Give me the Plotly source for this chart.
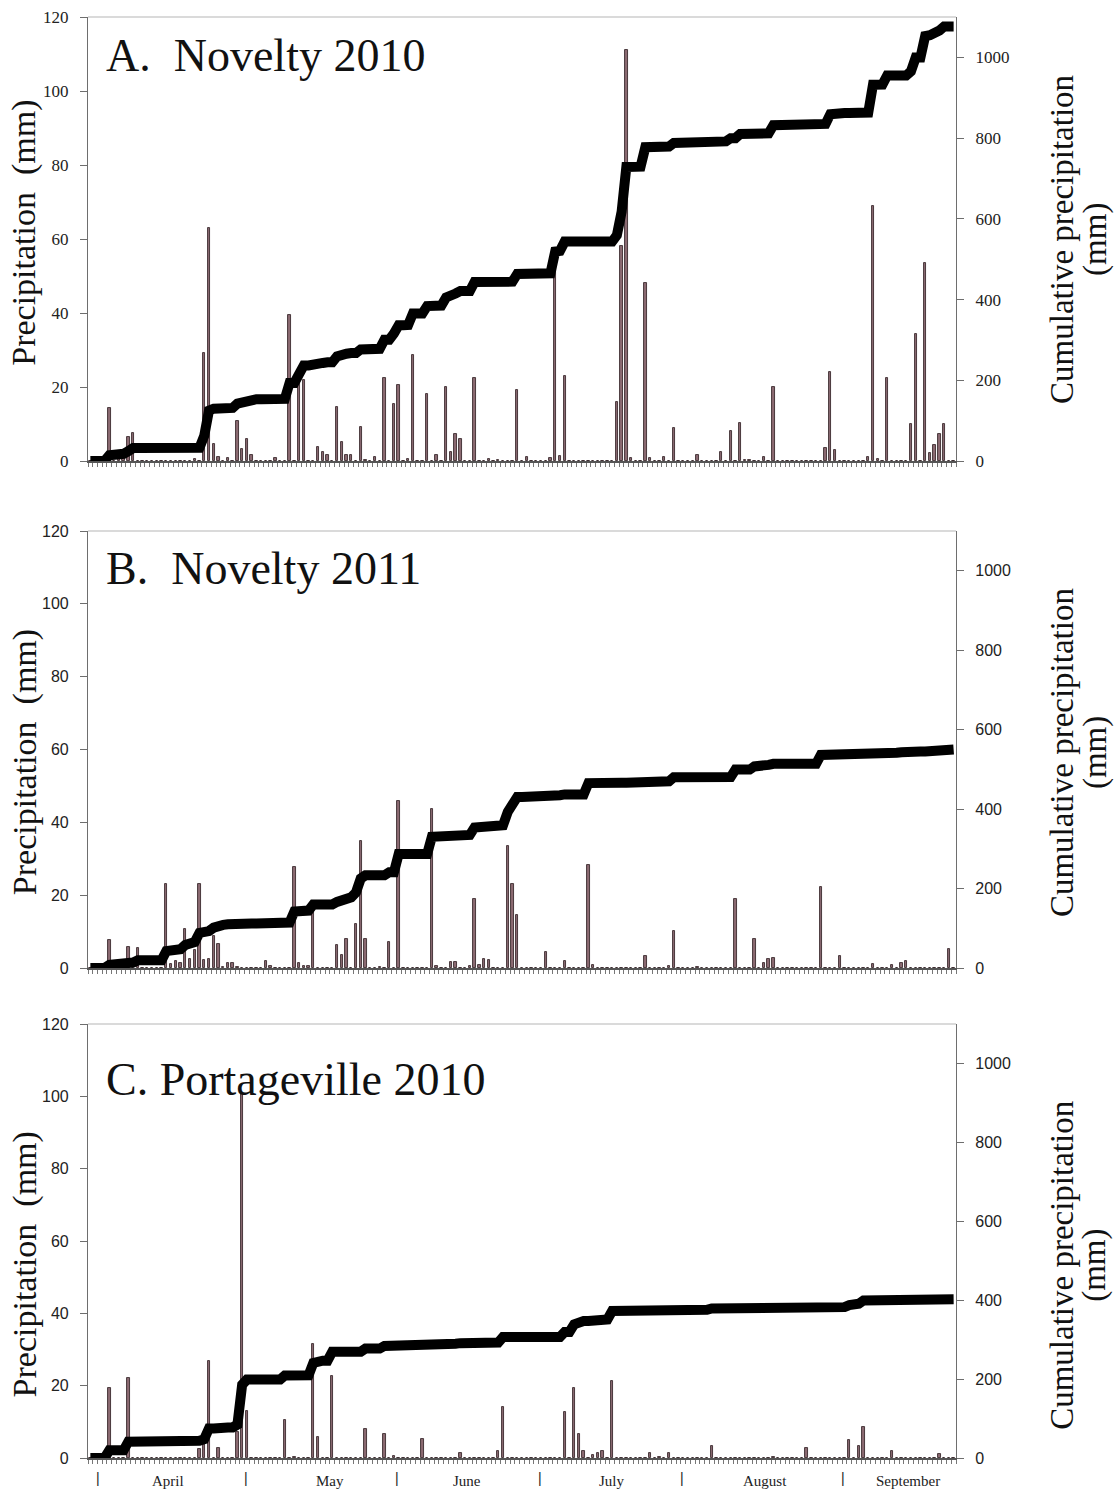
import numpy as np
import plotly.graph_objects as go

# ---------------- data ----------------
N_DAYS = 183  # 1 April .. 30 September (day index 0..182)
DAYS = list(range(N_DAYS))

# A. Novelty 2010 : rain days (index from 1 April) and amounts (mm)
A_DAY = [4, 6, 7, 8, 9, 22, 24, 25, 26, 27, 29, 31, 32, 33, 34, 39, 42, 44, 45, 48,
         49, 50, 52, 53, 54, 55, 57, 58, 60, 62, 64, 65, 67, 68, 71, 73, 75, 76, 77, 78,
         81, 84, 86, 90, 92, 97, 98, 99, 100, 111, 112, 113, 114, 117, 118, 121, 123, 128, 133, 135,
         137, 138, 139, 142, 144, 155, 156, 157, 164, 165, 166, 168, 173, 174, 176, 177, 178, 179, 180]
A_MM = [14.4, 2.0, 1.5, 6.6, 7.7, 0.5, 29.3, 63.0, 4.7, 1.1, 0.7, 10.8, 3.2, 5.9, 1.6, 0.9, 39.5, 21.6, 21.8, 3.8,
        2.4, 1.5, 14.6, 5.2, 1.5, 1.5, 9.2, 0.4, 1.0, 22.5, 15.5, 20.5, 0.5, 28.6, 18.2, 1.5, 20.0, 2.3, 7.4, 6.0,
        22.5, 0.6, 0.4, 19.1, 1.0, 0.7, 54.0, 1.4, 22.9, 16.0, 58.0, 111.0, 0.7, 48.2, 0.7, 1.1, 8.8, 1.5, 2.3, 8.1,
        10.2, 0.3, 0.3, 1.1, 20.0, 3.4, 24.1, 2.9, 1.2, 69.0, 0.5, 22.3, 10.1, 34.2, 53.4, 2.1, 4.2, 7.4, 10.1]

# B. Novelty 2011
B_DAY = [4, 8, 10, 16, 17, 18, 19, 20, 21, 22, 23, 24, 25, 26, 27, 28, 29, 30, 31, 37,
         38, 43, 44, 45, 46, 47, 52, 53, 54, 56, 57, 58, 61, 63, 65, 72, 73, 76, 77, 80,
         81, 82, 83, 84, 88, 89, 90, 96, 100, 105, 106, 117, 122, 123, 128, 136, 140, 142, 143, 144,
         154, 158, 165, 169, 171, 172, 181]
B_MM = [7.8, 5.9, 5.5, 23.2, 1.2, 2.0, 1.4, 10.8, 2.5, 4.9, 23.0, 2.2, 2.5, 8.8, 6.6, 0.3, 1.5, 1.5, 0.3, 2.0,
        0.5, 27.6, 1.3, 0.6, 0.6, 15.5, 6.3, 3.6, 8.1, 12.2, 35.0, 8.1, 0.3, 7.2, 45.9, 43.7, 0.5, 1.7, 1.7, 0.5,
        19.0, 0.8, 2.5, 2.3, 33.6, 23.1, 14.5, 4.5, 1.9, 28.4, 0.9, 3.3, 0.5, 10.2, 0.3, 18.9, 7.9, 1.5, 2.4, 2.8,
        22.3, 3.3, 1.0, 0.9, 1.4, 1.8, 5.2]

# C. Portageville 2010
C_DAY = [4, 8, 23, 24, 25, 27, 31, 32, 33, 41, 43, 47, 48, 51, 58, 62, 64, 70, 78, 86,
         87, 100, 102, 103, 104, 106, 107, 108, 110, 118, 120, 122, 131, 144, 151, 160, 162, 163, 169, 179]
C_MM = [19.4, 22.0, 2.5, 3.9, 26.9, 2.8, 7.1, 101.0, 13.1, 10.6, 0.3, 31.5, 5.7, 22.6, 8.0, 6.6, 0.5, 5.3, 1.3, 1.8,
        14.0, 12.6, 19.4, 6.6, 1.8, 0.8, 1.4, 1.8, 21.4, 1.4, 0.3, 1.4, 3.4, 0.3, 2.9, 5.1, 3.4, 8.5, 1.8, 1.1]

PANEL_TITLES = ["A.  Novelty 2010", "B.  Novelty 2011", "C. Portageville 2010"]
LEFT_TITLE = "Precipitation  (mm)"
RIGHT_TITLE_LINES = ["Cumulative precipitation", "(mm)"]

# month labels along the bottom axis (positions in day units as printed)
MONTH_NAMES = ["April", "May", "June", "July", "August", "September"]
MONTH_LABEL_POS = [16.4, 50.6, 79.3, 110.0, 142.2, 172.4]
MONTH_SEP_POS = [1.7, 32.9, 64.7, 94.8, 124.8, 158.7, 185.2]

LEFT_TICKS = [0, 20, 40, 60, 80, 100, 120]
RIGHT_TICKS = [0, 200, 400, 600, 800, 1000]


def daily(days, mm):
    arr = np.zeros(N_DAYS)
    for d, v in zip(days, mm):
        arr[d] += v
    return arr


panels = [daily(A_DAY, A_MM), daily(B_DAY, B_MM), daily(C_DAY, C_MM)]

# ---------------- figure ----------------
SERIF = "Liberation Serif"
SANS = "Liberation Sans"
BAR_FILL = "#8c6b72"
BAR_EDGE = "#3b2a2e"
AX_COL = "#6e6e6e"

W, H = 1117, 1492
ML, MR, MT, MB = 87.5, 161, 17, 34
plot_h = H - MT - MB
plot_w = W - ML - MR
# panel pixel extents (top, bottom) in page coordinates
PANEL_PIX = [(17, 461), (531, 968), (1024, 1458)]


def dom(top, bot):
    return [(H - MB - bot) / plot_h, (H - MB - top) / plot_h]


fig = go.Figure()
layout = dict(
    width=W, height=H,
    margin=dict(l=ML, r=MR, t=MT, b=MB, pad=0, autoexpand=False),
    paper_bgcolor="white", plot_bgcolor="white",
    showlegend=False, bargap=0,
)

tick_fonts = [dict(family=SERIF, size=17, color="#222"),
              dict(family=SANS, size=16, color="#222"),
              dict(family=SANS, size=16, color="#222")]

title_y = [0.913, 0.915, 0.872]
left_title_y = [0.513, 0.47, 0.445]
right_title_y = [0.50, 0.494, 0.445]
right_title_x = [1062, 1095]

annotations = []
shapes = []
for k in range(3):
    xa = "x" if k == 0 else f"x{k + 1}"
    ylk = 2 * k + 1
    yrk = 2 * k + 2
    yl = "y" if ylk == 1 else f"y{ylk}"
    yr = f"y{yrk}"
    vals = panels[k]
    cum = np.cumsum(vals)

    fig.add_trace(go.Bar(x=DAYS, y=vals, xaxis=xa, yaxis=yl, width=0.5,
                         marker=dict(color=BAR_FILL, line=dict(color=BAR_EDGE, width=0.9))))
    fig.add_trace(go.Scatter(x=DAYS, y=cum, xaxis=xa, yaxis=yr, mode="lines",
                             line=dict(color="black", width=10)))

    d = dom(*PANEL_PIX[k])
    xname = "xaxis" if k == 0 else f"xaxis{k + 1}"
    ylname = "yaxis" if ylk == 1 else f"yaxis{ylk}"
    yrname = f"yaxis{yrk}"
    layout[xname] = dict(
        domain=[0, 1], anchor=yl, range=[-0.5, N_DAYS - 0.5], automargin=False,
        showline=True, linecolor="#555", linewidth=1.5,
        ticks="", showticklabels=False, showgrid=False, zeroline=False,
        minor=dict(ticks="outside", tickmode="linear", tick0=-0.5, dtick=1,
                   ticklen=4, tickwidth=1, tickcolor="#777", showgrid=False),
    )
    layout[ylname] = dict(
        domain=d, anchor=xa, range=[0, 120], tickmode="array", tickvals=LEFT_TICKS,
        ticks="outside", ticklen=7, tickcolor=AX_COL, showline=True, linecolor=AX_COL,
        linewidth=1.2, showgrid=False, zeroline=False, tickfont=tick_fonts[k],
        ticklabelstandoff=8, automargin=False,
    )
    layout[yrname] = dict(
        domain=d, anchor=xa, overlaying=yl, side="right", range=[0, 1100],
        tickmode="array", tickvals=RIGHT_TICKS,
        ticks="outside", ticklen=7, tickcolor=AX_COL, showline=True, linecolor=AX_COL,
        linewidth=1.2, showgrid=False, zeroline=False, tickfont=tick_fonts[k],
        ticklabelstandoff=8, automargin=False,
    )
    # light top border of the plotting area
    shapes.append(dict(type="line", xref=f"{xa} domain", yref=f"{yl} domain",
                       x0=0, x1=1, y0=1, y1=1, line=dict(color="#b5b5b5", width=1.2)))
    # panel title
    annotations.append(dict(text=PANEL_TITLES[k], xref=f"{xa} domain", yref=f"{yl} domain",
                            x=0.019, y=title_y[k], xanchor="left", yanchor="middle", showarrow=False,
                            font=dict(family=SERIF, size=46, color="#111")))
    # axis titles
    annotations.append(dict(text=LEFT_TITLE, xref="paper", yref=f"{yl} domain",
                            x=(24 - ML) / plot_w, y=left_title_y[k], xanchor="center",
                            yanchor="middle", textangle=-90, showarrow=False,
                            font=dict(family=SERIF, size=34, color="#111")))
    for txt, px in zip(RIGHT_TITLE_LINES, right_title_x):
        annotations.append(dict(text=txt, xref="paper", yref=f"{yl} domain",
                                x=(px - ML) / plot_w, y=right_title_y[k], xanchor="center",
                                yanchor="middle", textangle=-90, showarrow=False,
                                font=dict(family=SERIF, size=33, color="#111")))

# month labels under the bottom panel
for name, pos in zip(MONTH_NAMES, MONTH_LABEL_POS):
    annotations.append(dict(text=name, xref="x3", yref="y5 domain", x=pos, y=0,
                            yshift=-23, xanchor="center", yanchor="middle", showarrow=False,
                            font=dict(family=SERIF, size=15, color="#222")))
for pos in MONTH_SEP_POS:
    annotations.append(dict(text="|", xref="x3", yref="y5 domain", x=pos, y=0,
                            yshift=-20, xanchor="center", yanchor="middle", showarrow=False,
                            font=dict(family=SANS, size=14, color="#222")))

layout["annotations"] = annotations
layout["shapes"] = shapes
fig.update_layout(**layout)
fig.write_html("out.html", config={"displayModeBar": False},
               post_script="document.body.style.margin='0px';document.body.style.overflow='hidden';")
